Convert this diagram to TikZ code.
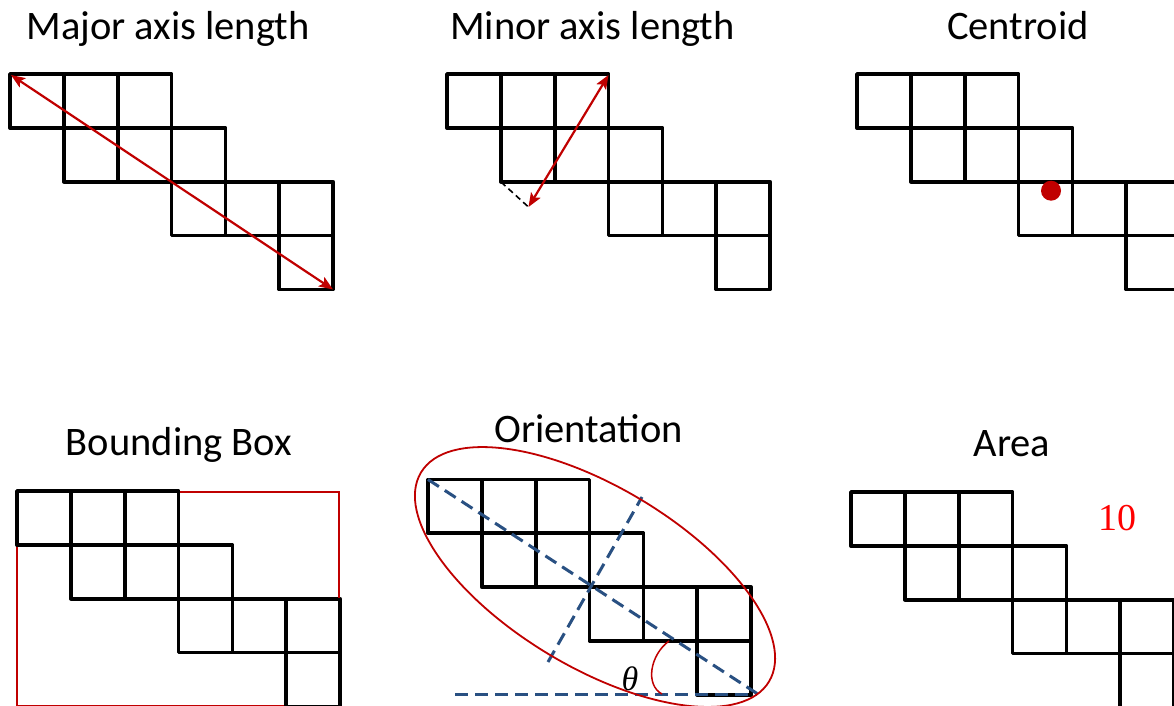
\documentclass[tikz,border=0pt]{standalone}
\usepackage{fontspec}
\setmainfont{Carlito}
\newfontfamily\serifgreek{Liberation Serif}
\usetikzlibrary{arrows.meta}
\definecolor{darkred}{RGB}{192,0,0}
\definecolor{purered}{RGB}{255,0,0}
\definecolor{axisblue}{RGB}{41,80,130}
\newcommand\sqs{53.85}
\newcommand\stairs[2]{%
  \foreach \c/\r in {0/0,1/0,2/0,1/1,2/1,3/1,3/2,4/2,5/2,5/3}
    \draw[cell] ({#1+\c*\sqs},{#2+\r*\sqs}) rectangle ++(\sqs,\sqs);%
}
\tikzset{
  cell/.style={line width=3.8pt, line join=round, line cap=round, black},
  title/.style={anchor=base, inner sep=0pt, font=\fontsize{40.5}{48}\selectfont},
  redarrow/.style={darkred, line width=2.2pt, {Stealth[length=14pt,width=11pt,inset=3pt]}-{Stealth[length=14pt,width=11pt,inset=3pt]}},
  blueaxis/.style={axisblue, line width=3pt, dash pattern=on 13pt off 7pt},
  thinred/.style={draw=darkred, line width=1.8pt},
  boxred/.style={draw=darkred, line width=2pt},
}
\begin{document}
\begin{tikzpicture}[x=1pt,y=-1pt]
\useasboundingbox (0,0) rectangle (1174,706);
\clip (0,0) rectangle (1174,706);
\fill[white] (0,0) rectangle (1174,706);

% titles
\node[title] (t1) at (168,39.5) {Major axis length};
\node[title] (t2) at (592.5,39.5) {Minor axis length};
\node[title] (t3) at (1018,39.5) {Centroid};
\node[title] (t4) at (179,455) {Bounding Box};
\node[title] (t5) at (588.5,442.7) {Orientation};
\node[title] (t6) at (1012,456.7) {Area};

% Panel 1: major axis length
\stairs{10}{74}
\coordinate (p1a) at (11,75);
\coordinate (p1b) at (333,289.5);
\draw[redarrow] (p1a) -- (p1b);

% Panel 2: minor axis length
\stairs{447}{74}
\coordinate (p2a) at (608.5,75);
\coordinate (p2b) at (528.5,207);
\coordinate (p2c) at (501,182);
\draw[black, line width=1.6pt, dash pattern=on 6pt off 4pt] (p2c) -- (p2b);
\draw[redarrow] (p2a) -- (p2b);

% Panel 3: centroid
\stairs{857}{74}
\fill[darkred] (1051,190.7) circle[radius=10pt];

% Panel 4: bounding box
\coordinate (bb1) at (17,492);
\coordinate (bb2) at (339,706.3);
\draw[boxred] (bb1) rectangle (bb2);
\stairs{17}{491}
\draw[boxred] (180,492) -- (339,492) -- (339,598);

% Panel 5: orientation
\stairs{428}{479.5}
\coordinate (o1) at (428,479.5);
\coordinate (o2) at (757,693.5);
\coordinate (o3) at (548,662);
\coordinate (o4) at (642,497);
\coordinate (o5) at (455,694);
\coordinate (o6) at (757,694);
\draw[blueaxis] (o1) -- (o2);
\draw[blueaxis] (o3) -- (o4);
\draw[blueaxis] (o5) -- (o6);
\draw[thinred, shift={(595,577)}, rotate=-31] (0,0) ellipse [x radius=203pt, y radius=90pt];
\coordinate (th1) at (669,641);
\coordinate (th2) at (662,694);
\draw[thinred, line width=1.5pt] (th1) .. controls (650,655) and (645,685) .. (th2);
\node[inner sep=0pt, font=\fontsize{34}{40}\selectfont\serifgreek\itshape] (theta) at (630,679) {θ};

% Panel 6: area
\stairs{851}{492}
\node[inner sep=0pt, text=purered, font=\fontsize{38}{46}\selectfont\serifgreek] (area) at (1117,518.5) {10};
\end{tikzpicture}
\end{document}
